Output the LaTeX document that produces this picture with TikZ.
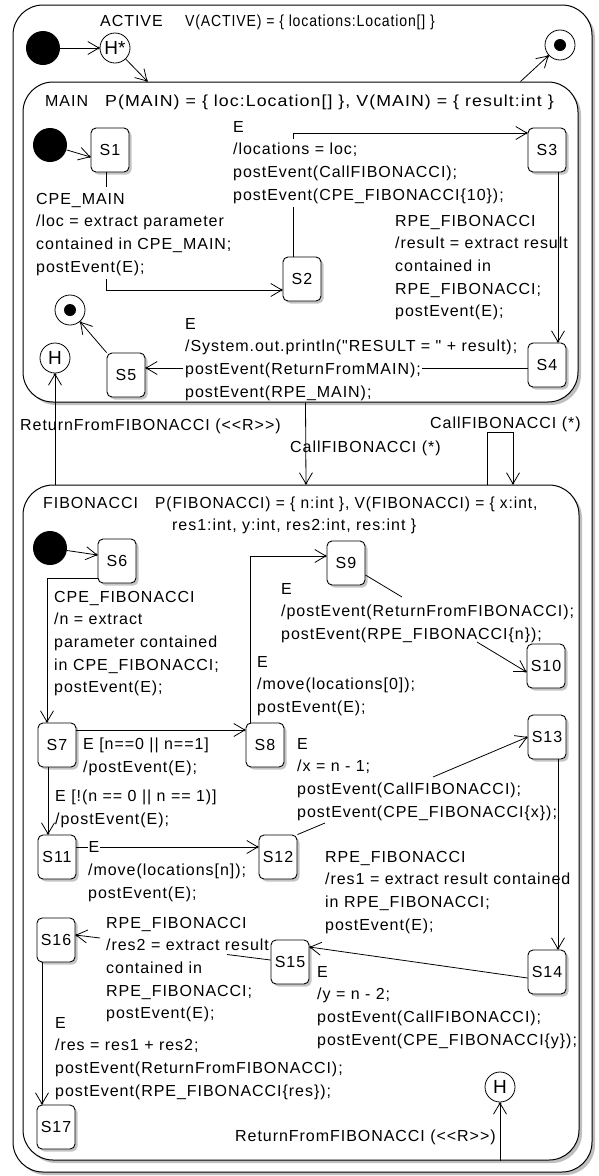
\documentclass[tikz,border=0pt]{standalone}
\usepackage{fontspec}
\usepackage{graphicx}
\newfontfamily\uifont{Liberation Sans}[LetterSpace=6]
\newfontfamily\symfont{Liberation Sans}
\usetikzlibrary{arrows.meta,shadows,calc}
\begin{document}
\begin{tikzpicture}[x=1pt,y=-1pt,
  every node/.style={font=\uifont\fontsize{16}{22.6}\selectfont},
  lbl/.style={anchor=north west,inner sep=0pt,align=left},
  st/.style={draw,line width=0.9pt,rounded corners=5pt,minimum width=38pt,minimum height=44pt,inner sep=0pt,fill=white,
    drop shadow={shadow xshift=2.5pt,shadow yshift=-2.5pt,fill=black!45}},
  comp/.style={draw,line width=1pt,rounded corners=30pt,fill=white,inner sep=0pt,
    drop shadow={shadow xshift=3pt,shadow yshift=-3pt,fill=black!50}},
  init/.style={circle,fill=black,minimum size=34pt,inner sep=0pt},
  hist/.style={circle,draw,line width=0.8pt,minimum size=30pt,inner sep=0pt,font=\symfont\fontsize{19}{19}\selectfont},
  fin/.style={circle,draw,line width=0.8pt,minimum size=30pt,inner sep=0pt,
    path picture={\fill[black] (path picture bounding box.center) circle (6pt);}},
  tr/.style={line width=0.8pt,-{Straight Barb[length=11pt,width=13pt,line width=0.8pt,sep=-2.5pt]Circle[length=2.5pt]}},
  ln/.style={line width=0.8pt}
]
\useasboundingbox (0,0) rectangle (598,1176);
\fill[white] (0,0) rectangle (598,1176);

% composite states
\node[comp,minimum width=579pt,minimum height=1167pt] (ACTIVE) at (302.5,588.5) {};
\node[comp,minimum width=555pt,minimum height=320pt] (MAIN) at (300.5,242) {};
\node[comp,minimum width=556pt,minimum height=675pt] (FIB) at (301,822.5) {};

% ACTIVE level
\node[lbl] (tA1) at (100,15) {ACTIVE};
\node[lbl] (tA2) at (185,15) {\scalebox{0.88}[1]{V(ACTIVE) = \{ locations:Location[] \}}};
\node[init] (init1) at (43,48) {};
\node[hist] (hstar) at (115,48) {H*};
\node[fin] (fin1) at (560,45) {};

% MAIN
\node[lbl] (tM1) at (45,95) {MAIN};
\node[lbl] (tM2) at (105,95) {\scalebox{1.11}[1]{P(MAIN) = \{ loc:Location[] \}, V(MAIN) = \{ result:int \}}};
\node[init] (init2) at (50,145) {};
\node[st] (S1) at (110,150) {S1};
\node[st] (S2) at (302,279) {S2};
\node[st] (S3) at (547,150) {S3};
\node[st] (S4) at (547,365) {S4};
\node[st] (S5) at (126,375) {S5};
\node[fin] (fin2) at (70,310) {};
\node[hist] (hist1) at (55,358) {H};

\node[lbl] (L1) at (36,193) {CPE\_MAIN\\/loc = extract parameter\\contained in CPE\_MAIN;\\postEvent(E);};
\node[lbl] (L2) at (233,121) {E\\/locations = loc;\\postEvent(CallFIBONACCI);\\postEvent(CPE\_FIBONACCI\{10\});};
\node[lbl] (L3) at (395,215) {RPE\_FIBONACCI\\/result = extract result\\contained in\\RPE\_FIBONACCI;\\postEvent(E);};
\node[lbl] (L4) at (185,318) {E\\/System.out.println("RESULT = " + result);\\postEvent(ReturnFromMAIN);\\postEvent(RPE\_MAIN);};

% between MAIN and FIBONACCI
\node[lbl] (R1) at (20,419) {ReturnFromFIBONACCI (<<R>>)};
\node[lbl] (C1) at (290,441) {CallFIBONACCI (*)};
\node[lbl] (C2) at (430,417) {CallFIBONACCI (*)};

% FIBONACCI
\node[lbl] (tF1) at (43,497) {FIBONACCI};
\node[lbl] (tF2) at (155,497) {\scalebox{0.97}[1]{P(FIBONACCI) = \{ n:int \}, V(FIBONACCI) = \{ x:int,}};
\node[lbl] (tF3) at (172,519) {res1:int, y:int, res2:int, res:int \}};
\node[init] (init3) at (50,548) {};
\node[st] (S6) at (117,561) {S6};
\node[st] (S7) at (57,745) {S7};
\node[st] (S8) at (265,745) {S8};
\node[st] (S9) at (346,563) {S9};
\node[st] (S10) at (546,666) {S10};
\node[st] (S11) at (57,857) {S11};
\node[st] (S12) at (278,857) {S12};
\node[st] (S13) at (547,737) {S13};
\node[st] (S14) at (547,972) {S14};
\node[st] (S15) at (290,962) {S15};
\node[st] (S16) at (56,940) {S16};
\node[st] (S17) at (56,1127) {S17};
\node[hist] (hist2) at (500,1087) {H};

\node[lbl] (L6) at (54,591) {CPE\_FIBONACCI\\/n = extract\\parameter contained\\in CPE\_FIBONACCI;\\postEvent(E);};
\node[lbl] (L9) at (281,583) {E\\/postEvent(ReturnFromFIBONACCI);\\postEvent(RPE\_FIBONACCI\{n\});};
\node[lbl] (L8) at (257,656) {E\\/move(locations[0]);\\postEvent(E);};
\node[lbl] (L7) at (83,738) {E [n==0 || n==1]\\/postEvent(E);};
\node[lbl] (L7b) at (55,790) {E [!(n == 0 || n == 1)]\\/postEvent(E);};
\node[inner sep=0pt] (e11) at (94,847) {E};
\node[lbl] (L11) at (88,864) {/move(locations[n]);\\postEvent(E);};
\node[lbl] (L12) at (297,738) {E\\/x = n - 1;\\postEvent(CallFIBONACCI);\\postEvent(CPE\_FIBONACCI\{x\});};
\node[lbl] (L13) at (325,851) {RPE\_FIBONACCI\\/res1 = extract result contained\\in RPE\_FIBONACCI;\\postEvent(E);};
\node[lbl] (L14) at (317,966) {E\\/y = n - 2;\\postEvent(CallFIBONACCI);\\postEvent(CPE\_FIBONACCI\{y\});};
\node[lbl] (L15) at (106,917) {RPE\_FIBONACCI\\/res2 = extract result\\contained in\\RPE\_FIBONACCI;\\postEvent(E);};
\node[lbl] (L16) at (55,1017) {E\\/res = res1 + res2;\\postEvent(ReturnFromFIBONACCI);\\postEvent(RPE\_FIBONACCI\{res\});};
\node[lbl] (R2) at (235,1130) {ReturnFromFIBONACCI (<<R>>)};

% connectors: ACTIVE level
\draw[tr] (init1) -- (hstar);
\draw[tr] (hstar) -- ([xshift=125pt]MAIN.north west);
\draw[tr] ([xshift=-58pt]MAIN.north east) -- (fin1);

% MAIN
\draw[tr] (init2) -- ([yshift=-7pt]S1.west);
\draw[ln] ([xshift=-4pt]S1.south) -- ++(0,15);
\coordinate (c12) at (106,279);
\draw[tr] (c12) |- ([yshift=-11pt]S2.west);
\draw[ln] ([xshift=-9pt]S2.north) -- ++(0,-50);
\coordinate (c23) at (293,139);
\draw[tr] (c23) |- ([yshift=17pt]S3.west);
\draw[tr] ([xshift=11pt]S3.south) -- ([xshift=11pt]S4.north);
\coordinate (c4a) at (422,368);
\coordinate (c4b) at (183,368);
\draw[ln] (S4.west |- c4a) -- (c4a);
\draw[tr] (c4b) -- (S5.east |- c4b);
\draw[tr] (S5.north west) -- (fin2);

% between
\draw[tr] (FIB.north west -| hist1) -- (hist1);
\draw[tr] ([xshift=5pt]MAIN.south) -- ([xshift=5pt]FIB.north);
\draw[tr] ([xshift=186pt]FIB.north) -- ++(0,-52) -| ([xshift=212pt]FIB.north);

% FIBONACCI
\draw[tr] (init3) -- ([yshift=6pt]S6.west);
\draw[tr] ([yshift=-17pt]S6.west) -| ([xshift=-10pt]S7.north);
\draw[tr] ([yshift=15pt]S7.east) -- ([yshift=15pt]S8.west);
\draw[tr] ([xshift=-15pt]S8.north) |- ([yshift=7pt]S9.west);
\coordinate (b91) at (402,597);
\coordinate (b92) at (477,642);
\draw[ln] ([yshift=-12pt]S9.east) -- (b91);
\draw[tr] (b92) -- ([yshift=-6pt]S10.west);
\draw[tr] ([xshift=-9pt]S7.south) -- ([xshift=-9pt]S11.north);
\draw[ln] ([yshift=10pt]S11.east) -- (e11.west);
\draw[tr] (e11.east) -- ([yshift=10pt]S12.west);
\coordinate (b121) at (325,823);
\coordinate (b122) at (433,777);
\draw[ln] (S12.north east) -- (b121);
\draw[tr] (b122) -- (S13.west);
\draw[tr] ([xshift=11pt]S13.south) -- ([xshift=11pt]S14.north);
\draw[tr] ([yshift=-6pt]S14.west) -- ([yshift=15pt]S15.east);
\coordinate (b151) at (227,954.5);
\coordinate (b152) at (100,938);
\draw[ln] ([yshift=2pt]S15.west) -- (b151);
\draw[tr] (b152) -- ([yshift=5pt]S16.east);
\draw[tr] ([xshift=-14pt]S16.south) -- ([xshift=-14pt]S17.north);
\draw[tr] (FIB.south -| hist2) -- (hist2);
\end{tikzpicture}
\end{document}
